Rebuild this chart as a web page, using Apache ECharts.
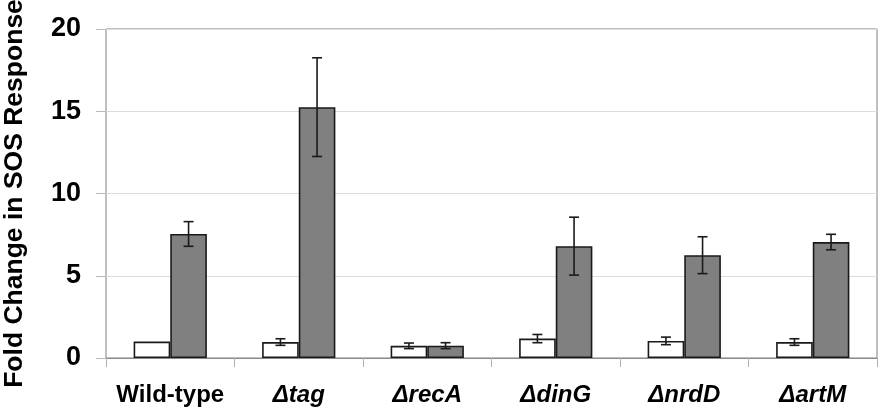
<!DOCTYPE html>
<html>
<head>
<meta charset="utf-8">
<script src="https://cdn.jsdelivr.net/npm/echarts@6/dist/echarts.min.js"></script>
<style>
html,body{margin:0;padding:0;background:#fff;}
#chart{width:885px;height:410px;}
</style>
</head>
<body>
<div id="chart"></div>
<script>
const categories = ['Wild-type', 'Δtag', 'ΔrecA', 'ΔdinG', 'ΔnrdD', 'ΔartM'];
const untreated = [1.0, 0.97, 0.74, 1.18, 1.04, 0.97];
const untreatedErr = [0, 0.2, 0.17, 0.25, 0.23, 0.2];
const treated = [7.54, 15.25, 0.75, 6.8, 6.25, 7.05];
const treatedErr = [0.75, 3.0, 0.18, 1.76, 1.12, 0.47];
const yTicks = [0, 5, 10, 15, 20];

const FONT = "'Liberation Sans', Arial, sans-serif";
const CAT_GAP = 0.43;

function errorRenderer(sign) {
  return function (params, api) {
    const idx = api.value(0);
    const val = api.value(1);
    const err = api.value(2);
    if (!err) return null;
    const band = api.size([1, 0])[0];
    const off = sign * band * (1 - CAT_GAP) / 4;
    const c = api.coord([idx, val]);
    const top = api.coord([idx, val + err]);
    const bot = api.coord([idx, val - err]);
    const x = c[0] + off;
    const cap = 5;
    const style = { stroke: '#1a1a1a', lineWidth: 1.6 };
    return {
      type: 'group',
      children: [
        { type: 'line', shape: { x1: x, y1: top[1], x2: x, y2: bot[1] }, style: style },
        { type: 'line', shape: { x1: x - cap, y1: top[1], x2: x + cap, y2: top[1] }, style: style },
        { type: 'line', shape: { x1: x - cap, y1: bot[1], x2: x + cap, y2: bot[1] }, style: style }
      ]
    };
  };
}

const chart = echarts.init(document.getElementById('chart'));
chart.setOption({
  animation: false,
  backgroundColor: '#fff',
  grid: {
    left: 106, right: 8, top: 29, bottom: 52,
    containLabel: false,
    outerBoundsMode: 'none',
    show: true, borderColor: '#808080', borderWidth: 1, backgroundColor: 'transparent'
  },
  xAxis: {
    type: 'category',
    data: categories,
    axisLine: { show: true, lineStyle: { color: '#8a8a8a', width: 1 } },
    axisTick: { show: true, length: 9, lineStyle: { color: '#b0b0b0' } },
    axisLabel: {
      margin: 25,
      formatter: function (v) { return v.charAt(0) === 'Δ' ? '{i|' + v + '}' : '{n|' + v + '}'; },
      rich: {
        n: { fontFamily: FONT, fontSize: 24, fontWeight: 'bold', color: '#000' },
        i: { fontFamily: FONT, fontSize: 24, fontWeight: 'bold', fontStyle: 'italic', color: '#000' }
      }
    },
    splitLine: { show: false }
  },
  yAxis: {
    type: 'value',
    min: yTicks[0],
    max: yTicks[yTicks.length - 1],
    interval: yTicks[1] - yTicks[0],
    name: 'Fold Change in SOS Response',
    nameLocation: 'middle',
    nameGap: 78,
    nameTextStyle: { fontFamily: FONT, fontSize: 26.5, fontWeight: 'bold', color: '#000' },
    axisLine: { show: false },
    axisTick: { show: true, length: 10, lineStyle: { color: '#b8b8b8' } },
    axisLabel: { margin: 25, fontFamily: FONT, fontSize: 27, fontWeight: 'bold', color: '#000' },
    splitLine: { show: true, lineStyle: { color: '#dcdcdc', width: 1 } }
  },
  series: [
    {
      name: 'Untreated',
      type: 'bar',
      data: untreated,
      barGap: '0%',
      barCategoryGap: (CAT_GAP * 100) + '%',
      itemStyle: { color: '#ffffff', borderColor: '#1a1a1a', borderWidth: 1.6 }
    },
    {
      name: 'Treated',
      type: 'bar',
      data: treated,
      barGap: '0%',
      barCategoryGap: (CAT_GAP * 100) + '%',
      itemStyle: { color: '#808080', borderColor: '#1a1a1a', borderWidth: 1.6 }
    },
    {
      type: 'custom',
      renderItem: errorRenderer(-1),
      data: untreated.map(function (v, i) { return [i, v, untreatedErr[i]]; }),
      z: 10
    },
    {
      type: 'custom',
      renderItem: errorRenderer(1),
      data: treated.map(function (v, i) { return [i, v, treatedErr[i]]; }),
      z: 10
    }
  ]
});
</script>
</body>
</html>
